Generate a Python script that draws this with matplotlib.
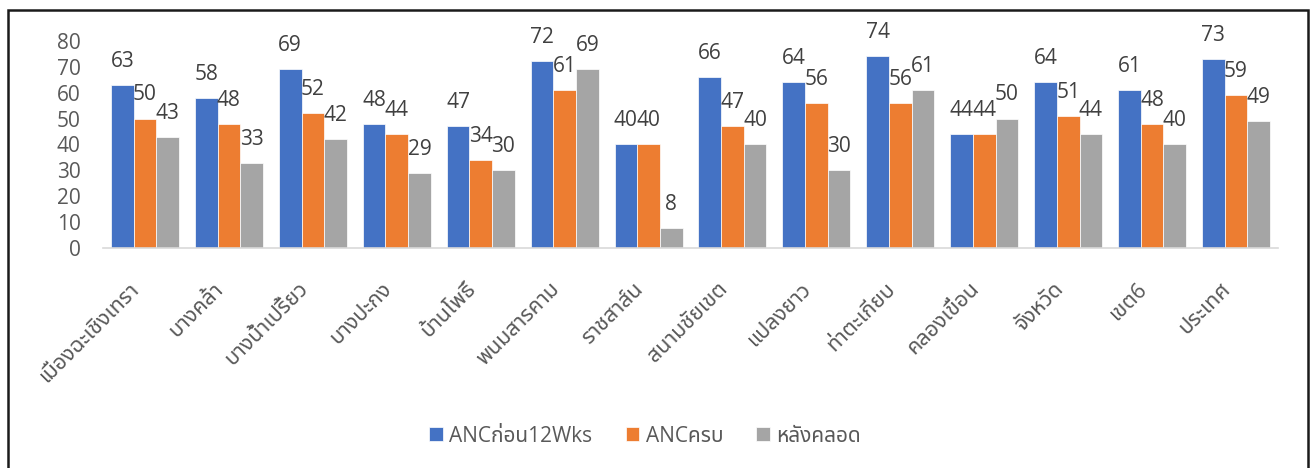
import numpy as np
import matplotlib
matplotlib.use("Agg")
import matplotlib.pyplot as plt
from matplotlib.patches import Rectangle
from matplotlib.transforms import ScaledTranslation

# districts of Chachoengsao plus province / region / country rows
districts = ['เมืองฉะเชิงเทรา', 'บางคล้า', 'บางน้ำเปรี้ยว', 'บางปะกง', 'บ้านโพธิ์',
             'พนมสารคาม', 'ราชสาส์น', 'สนามชัยเขต', 'แปลงยาว', 'ท่าตะเกียบ',
             'คลองเขื่อน', 'จังหวัด', 'เขต6', 'ประเทศ']
anc_before_12wks = [63, 58, 69, 48, 47, 72, 40, 66, 64, 74, 44, 64, 61, 73]
anc_complete = [50, 48, 52, 44, 34, 61, 40, 47, 56, 56, 44, 51, 48, 59]
postpartum = [43, 33, 42, 29, 30, 69, 8, 40, 30, 61, 50, 44, 40, 49]

series_names = ['ANCก่อน12Wks', 'ANCครบ', 'หลังคลอด']
series_colors = ['#4472C4', '#ED7D31', '#A5A5A5']
y_ticks = [0, 10, 20, 30, 40, 50, 60, 70, 80]

plt.rcParams['font.family'] = ['Open Sans', 'Noto Sans Thai', 'IBM Plex Sans Thai', 'Sarabun', 'DejaVu Sans']

fig = plt.figure(figsize=(13.14, 4.68), dpi=100)
ax = fig.add_axes([0.0784, 0.4694, 0.8942, 0.4437])

x = np.arange(len(districts))
width = 0.27
all_series = [anc_before_12wks, anc_complete, postpartum]

for i, (vals, name, col) in enumerate(zip(all_series, series_names, series_colors)):
    pos = x + (i - 1) * width
    ax.bar(pos, vals, width, color=col, label=name, edgecolor='white', linewidth=0.5)
    for px, v in zip(pos, vals):
        ax.annotate(str(v), (px, v), xytext=(0, 13), textcoords='offset points',
                    ha='center', va='baseline', fontsize=15, color='#404040',
                    annotation_clip=False)

ax.set_xlim(-0.5, len(districts) - 0.5)
ax.set_ylim(0, 80)
ax.set_yticks(y_ticks)
ax.tick_params(axis='y', length=0, pad=16, labelsize=15, labelcolor='#595959')
ax.tick_params(axis='x', length=0, pad=24, labelsize=15.5, labelcolor='#595959')
ax.set_xticks(x)
ax.set_xticklabels(districts, rotation=45, ha='right', va='center', rotation_mode='anchor')

# Thai marks make the measured width come out short, nudge labels left
shift = ScaledTranslation(-6 / 72, -3 / 72, fig.dpi_scale_trans)
for lbl in ax.get_xticklabels():
    lbl.set_transform(lbl.get_transform() + shift)

for side in ['top', 'right', 'left']:
    ax.spines[side].set_visible(False)
ax.spines['bottom'].set_color('#D9D9D9')
ax.spines['bottom'].set_linewidth(1.2)

fig.legend(loc='center', bbox_to_anchor=(0.491, 0.068), ncol=3, frameon=False,
           fontsize=15, labelcolor='#595959', handlelength=0.65, handleheight=0.65,
           handletextpad=0.3, columnspacing=1.6)

# outer chart frame
fig.patches.append(Rectangle((8 / 1314, -0.05), 1300 / 1314, 1.05 - 10 / 468,
                             transform=fig.transFigure, fill=False,
                             edgecolor='#1a1a1a', linewidth=1.8))

fig.savefig('out.png', dpi=100)
